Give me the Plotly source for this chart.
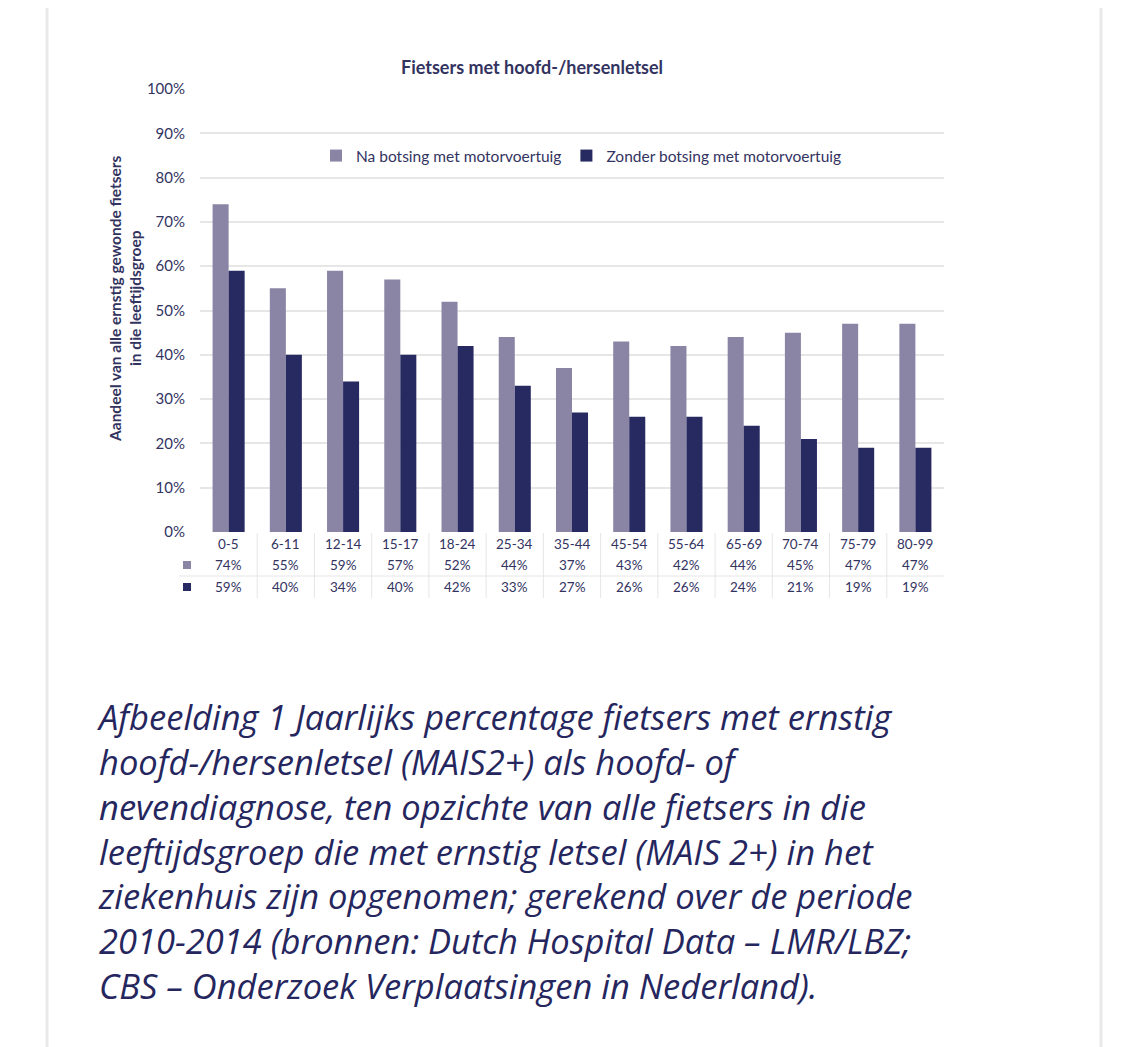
import plotly.graph_objects as go

categories = ["0-5", "6-11", "12-14", "15-17", "18-24", "25-34", "35-44",
              "45-54", "55-64", "65-69", "70-74", "75-79", "80-99"]
na_botsing = [74, 55, 59, 57, 52, 44, 37, 43, 42, 44, 45, 47, 47]
zonder_botsing = [59, 40, 34, 40, 42, 33, 27, 26, 26, 24, 21, 19, 19]
series_names = ["Na botsing met motorvoertuig", "Zonder botsing met motorvoertuig"]
y_ticks = [0, 10, 20, 30, 40, 50, 60, 70, 80, 90, 100]
title_text = "Fietsers met hoofd-/hersenletsel"
y_title = "Aandeel van alle ernstig gewonde fietsers<br>in die leeftijdsgroep"
caption_lines = [
    "Afbeelding 1 Jaarlijks percentage fietsers met ernstig",
    "hoofd-/hersenletsel (MAIS2+) als hoofd- of",
    "nevendiagnose, ten opzichte van alle fietsers in die",
    "leeftijdsgroep die met ernstig letsel (MAIS 2+) in het",
    "ziekenhuis zijn opgenomen; gerekend over de periode",
    "2010-2014 (bronnen: Dutch Hospital Data – LMR/LBZ;",
    "CBS – Onderzoek Verplaatsingen in Nederland).",
]

OFF = 8  # page body margin in the browser
W, H = 1125 - OFF, 1047 - OFF
# plot area in screen pixels (target)
L, R, T, B = 200, 944, 89, 532
LIGHT = "#8a84a5"
DARK = "#272961"
TXT = "#33335f"
NAVY = "#25265e"
GRID = "#e6e6e6"
FONT = "Lato, sans-serif"


def px(xp):
    return (xp - L) / (R - L)


def py(yp):
    return (B - yp) / (B - T)


fig = go.Figure()
fig.add_trace(go.Bar(x=categories, y=na_botsing, name=series_names[0],
                     marker=dict(color=LIGHT, line_width=0)))
fig.add_trace(go.Bar(x=categories, y=zonder_botsing, name=series_names[1],
                     marker=dict(color=DARK, line_width=0)))

annotations = []
shapes = []

# title
annotations.append(dict(text="<b>" + title_text + "</b>", xref="paper", yref="paper",
                        x=px(532), y=py(67), xanchor="center", yanchor="middle",
                        showarrow=False, font=dict(family=FONT, size=18, color=TXT)))
# y axis title
annotations.append(dict(text="<b>" + y_title + "</b>", xref="paper", yref="paper",
                        x=px(125), y=py(299), xanchor="center", yanchor="middle",
                        textangle=-90, showarrow=False,
                        font=dict(family=FONT, size=15.5, color=TXT)))

# data table under the axis
TFS = 13.5
for i, c in enumerate(categories):
    annotations.append(dict(text=c, x=c, xref="x", yref="paper", y=py(544),
                            showarrow=False, yanchor="middle",
                            font=dict(family=FONT, size=TFS, color=TXT)))
    annotations.append(dict(text=f"{na_botsing[i]}%", x=c, xref="x", yref="paper", y=py(565),
                            showarrow=False, yanchor="middle",
                            font=dict(family=FONT, size=TFS, color=TXT)))
    annotations.append(dict(text=f"{zonder_botsing[i]}%", x=c, xref="x", yref="paper", y=py(587),
                            showarrow=False, yanchor="middle",
                            font=dict(family=FONT, size=TFS, color=TXT)))
for k in range(1, len(categories)):
    shapes.append(dict(type="line", xref="x", yref="paper", x0=k - 0.5, x1=k - 0.5,
                       y0=py(533), y1=py(598), line=dict(color=GRID, width=1)))
shapes.append(dict(type="line", xref="paper", yref="paper", x0=px(179), x1=1,
                   y0=py(576), y1=py(576), line=dict(color=GRID, width=1)))
# legend keys in table
for yy, col in [(565, LIGHT), (587, DARK)]:
    shapes.append(dict(type="rect", xref="paper", yref="paper",
                       x0=px(183), x1=px(191), y0=py(yy - 4), y1=py(yy + 4),
                       fillcolor=col, line_width=0))

# page borders
for xx in (47, 1101):
    shapes.append(dict(type="line", xref="paper", yref="paper", x0=px(xx), x1=px(xx),
                       y0=py(0), y1=py(1100), line=dict(color="#e9e9e9", width=3)))

# caption (one multi-line block; line height = 1.3 * size)
CAP_FS = 34.5
annotations.append(dict(text="<i>" + "<br>".join(caption_lines) + "</i>",
                        xref="paper", yref="paper", x=px(95), y=py(691),
                        xanchor="left", yanchor="top", align="left", showarrow=False,
                        font=dict(family="Open Sans, sans-serif", size=CAP_FS, color=NAVY)))

fig.update_layout(
    width=W, height=H,
    margin=dict(l=L - OFF, r=W - (R - OFF), t=T - OFF, b=H - (B - OFF)),
    paper_bgcolor="white", plot_bgcolor="white",
    barmode="group", bargap=0.44, bargroupgap=0,
    showlegend=True,
    legend=dict(orientation="h", x=px(316), xanchor="left", y=py(156), yanchor="middle",
                font=dict(family=FONT, size=15.5, color=TXT), bgcolor="rgba(0,0,0,0)"),
    xaxis=dict(showticklabels=False, showgrid=False, zeroline=False, showline=False,
               ticks=""),
    yaxis=dict(range=[0, 100], tickvals=y_ticks, ticktext=[f"{v}%" for v in y_ticks],
               showgrid=True, gridcolor=GRID, gridwidth=1.5, zeroline=False,
               showline=False, ticks="", ticklabelstandoff=14,
               tickfont=dict(family=FONT, size=15, color=TXT)),
    annotations=annotations, shapes=shapes,
)

fig.write_html("out.html")
